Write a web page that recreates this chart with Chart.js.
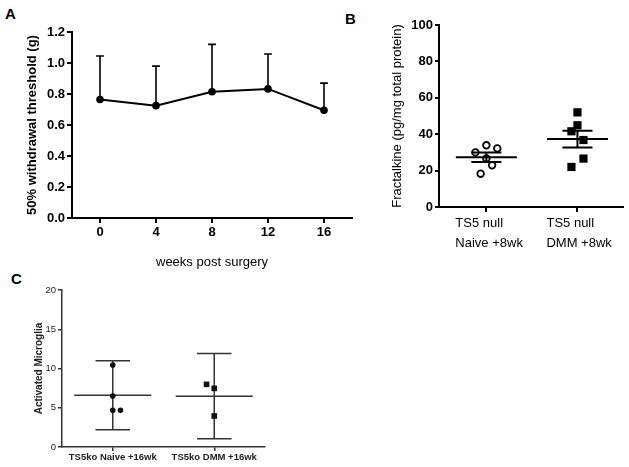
<!DOCTYPE html>
<html>
<head>
<meta charset="utf-8">
<script src="https://cdn.jsdelivr.net/npm/chart.js@4.4.0/dist/chart.umd.min.js"></script>
<style>
  body { margin: 0; background: #fff; width: 629px; height: 467px; position: relative; overflow: hidden; font-family: Arial, "Liberation Sans", sans-serif; }
  .panel { position: absolute; }
  .letter { position: absolute; font-weight: bold; font-size: 15px; line-height: 15px; color: #000; }
</style>
</head>
<body>
<div class="letter" style="left:5px;top:6px">A</div>
<div class="letter" style="left:345px;top:11px">B</div>
<div class="letter" style="left:11px;top:271px">C</div>
<canvas id="chartA" class="panel" width="360" height="280" style="left:0;top:0"></canvas>
<canvas id="chartB" class="panel" width="249" height="270" style="left:380px;top:0"></canvas>
<canvas id="chartC" class="panel" width="300" height="197" style="left:0;top:270px"></canvas>
<script>
// A: withdrawal threshold over time
const weeks = [0, 4, 8, 12, 16];
const thresholdMean = [0.765, 0.725, 0.815, 0.833, 0.695];
const thresholdUpper = [1.045, 0.98, 1.12, 1.058, 0.87];

// B: fractalkine, two groups
const fknGroups = [["TS5 null", "Naive +8wk"], ["TS5 null", "DMM +8wk"]];
const fknNaive = [30.0, 33.9, 32.2, 26.7, 22.9, 18.3];
const fknNaiveJitter = [-0.12, 0, 0.12, 0, 0.063, -0.063];
const fknDmm = [52.0, 44.9, 41.6, 36.8, 26.6, 22.0];
const fknDmmJitter = [0, 0, -0.066, 0.066, 0.066, -0.066];
const fknMean = [27.3, 37.3];
const fknSem = [2.6, 4.6];

// C: activated microglia
const microGroups = ["TS5ko Naive +16wk", "TS5ko DMM +16wk"];
const microNaive = [10.45, 6.5, 4.67, 4.67];
const microNaiveJitter = [0, 0, 0, 0.076];
const microDmm = [7.98, 7.47, 3.95];
const microDmmJitter = [-0.076, 0, 0];
const microMean = [6.58, 6.45];
const microLow = [2.2, 1.06];
const microHigh = [11.0, 11.9];

const FONT = "Arial, 'Liberation Sans', sans-serif";
Chart.defaults.font.family = FONT;
Chart.defaults.color = "#000";

// turn a list of segments into one line dataset broken by gaps
function segs(list) {
  const out = [];
  list.forEach(([a, b]) => {
    out.push({ x: a[0], y: a[1] }, { x: b[0], y: b[1] }, { x: b[0], y: null });
  });
  return out;
}

function lineSet(data, color, width) {
  return { data, showLine: true, spanGaps: false, pointRadius: 0, borderColor: color, borderWidth: width, order: 1 };
}

function axisLook(color, width, tickLen) {
  return {
    border: { color, width },
    grid: { display: true, drawOnChartArea: false, drawTicks: true, tickLength: tickLen, color, lineWidth: width }
  };
}

// fixed box sizes so the plot areas land where the figure has them
function fixX(h) {
  return s => { s.height = h; s.paddingLeft = 0; s.paddingRight = 0; };
}
function fixY(w) {
  return s => { s.width = w; s.paddingTop = 0; s.paddingBottom = 0; };
}

const baseOpts = {
  responsive: false,
  animation: false,
  devicePixelRatio: 1,
  events: [],
  plugins: { legend: { display: false }, tooltip: { enabled: false } }
};

// ---------- A ----------
const errA = [];
weeks.forEach((w, i) => {
  errA.push([[w, thresholdMean[i]], [w, thresholdUpper[i]]]);
  errA.push([[w - 0.28, thresholdUpper[i]], [w + 0.28, thresholdUpper[i]]]);
});

new Chart(document.getElementById("chartA"), {
  type: "scatter",
  data: {
    datasets: [
      {
        data: weeks.map((w, i) => ({ x: w, y: thresholdMean[i] })),
        showLine: true, borderColor: "#000", borderWidth: 2,
        pointRadius: 3.8, pointBackgroundColor: "#000", pointBorderWidth: 0, order: 0
      },
      lineSet(segs(errA), "#000", 1.6)
    ]
  },
  options: {
    ...baseOpts,
    layout: { padding: { top: 32, right: 8, left: 0, bottom: 0 } },
    scales: {
      x: {
        type: "linear", min: -2, max: 18,
        ...axisLook("#000", 2, 5),
        afterBuildTicks: s => { s.ticks = weeks.map(v => ({ value: v })); },
        afterFit: fixX(62),
        ticks: { padding: 2, font: { size: 13, weight: "bold" } },
        title: { display: true, text: "weeks post surgery", font: { size: 13 }, padding: { top: 0, bottom: 10 } }
      },
      y: {
        min: 0, max: 1.2,
        ...axisLook("#000", 2, 5),
        afterFit: fixY(72),
        ticks: { stepSize: 0.2, padding: 2, font: { size: 13, weight: "bold" }, callback: v => v.toFixed(1) },
        title: { display: true, text: "50% withdrawal threshold (g)", font: { size: 13, weight: "bold" }, padding: { top: 25, bottom: 0 } }
      }
    }
  }
});

// ---------- B ----------
const meanB = [], semB = [];
fknMean.forEach((m, i) => {
  const s = fknSem[i];
  meanB.push([[i - 0.335, m], [i + 0.335, m]]);
  semB.push([[i, m - s], [i, m + s]]);
  semB.push([[i - 0.165, m + s], [i + 0.165, m + s]]);
  semB.push([[i - 0.165, m - s], [i + 0.165, m - s]]);
});

new Chart(document.getElementById("chartB"), {
  type: "scatter",
  data: {
    datasets: [
      lineSet(segs(meanB), "#000", 2),
      lineSet(segs(semB), "#000", 2),
      {
        data: fknNaive.map((y, i) => ({ x: 0 + fknNaiveJitter[i], y })),
        pointStyle: "circle", pointRadius: 3.3, pointBackgroundColor: "#fff",
        pointBorderColor: "#000", pointBorderWidth: 1.8, order: 2
      },
      {
        data: fknDmm.map((y, i) => ({ x: 1 + fknDmmJitter[i], y })),
        pointStyle: "rect", pointRadius: 5.8, pointBackgroundColor: "#000",
        pointBorderWidth: 0, order: 2
      }
    ]
  },
  options: {
    ...baseOpts,
    layout: { padding: { top: 25, right: 6, left: 0, bottom: 0 } },
    scales: {
      x: {
        type: "linear", min: -0.52, max: 1.5,
        ...axisLook("#000", 2, 5),
        afterBuildTicks: s => { s.ticks = fknGroups.map((g, i) => ({ value: i })); },
        afterFit: fixX(63),
        ticks: {
          padding: 2, align: "start", labelOffset: -31,
          font: { size: 13, lineHeight: 1.5 },
          callback: (v, i) => fknGroups[i]
        }
      },
      y: {
        min: 0, max: 100,
        ...axisLook("#000", 2, 4),
        afterFit: fixY(59),
        ticks: { stepSize: 20, padding: 2, font: { size: 13, weight: "bold" } },
        title: { display: true, text: "Fractalkine (pg/mg total protein)", font: { size: 13 }, padding: { top: 10, bottom: 0 } }
      }
    }
  }
});

// ---------- C ----------
const barsC = [];
microMean.forEach((m, i) => {
  barsC.push([[i - 0.38, m], [i + 0.38, m]]);
  barsC.push([[i, microLow[i]], [i, microHigh[i]]]);
  barsC.push([[i - 0.17, microHigh[i]], [i + 0.17, microHigh[i]]]);
  barsC.push([[i - 0.17, microLow[i]], [i + 0.17, microLow[i]]]);
});

new Chart(document.getElementById("chartC"), {
  type: "scatter",
  data: {
    datasets: [
      lineSet(segs(barsC), "#333", 1.5),
      {
        data: microNaive.map((y, i) => ({ x: 0 + microNaiveJitter[i], y })),
        pointStyle: "circle", pointRadius: 2.8, pointBackgroundColor: "#111",
        pointBorderWidth: 0, order: 0
      },
      {
        data: microDmm.map((y, i) => ({ x: 1 + microDmmJitter[i], y })),
        pointStyle: "rect", pointRadius: 4, pointBackgroundColor: "#111",
        pointBorderWidth: 0, order: 0
      }
    ]
  },
  options: {
    ...baseOpts,
    layout: { padding: { top: 20, right: 35, left: 0, bottom: 0 } },
    scales: {
      x: {
        type: "linear", min: -0.5, max: 1.5,
        ...axisLook("#333", 1.5, 4),
        afterBuildTicks: s => { s.ticks = microGroups.map((g, i) => ({ value: i })); },
        afterFit: fixX(20),
        ticks: { padding: 1, color: "#222", font: { size: 9.5, weight: "bold" }, callback: (v, i) => microGroups[i] }
      },
      y: {
        min: 0, max: 20,
        ...axisLook("#333", 1.5, 4),
        afterFit: fixY(62),
        ticks: { stepSize: 5, padding: 2, color: "#222", font: { size: 9.5 } },
        title: { display: true, text: "Activated Microglia", color: "#222", font: { size: 10, weight: "bold" }, padding: { top: 33, bottom: 0 } }
      }
    }
  }
});
</script>
</body>
</html>
